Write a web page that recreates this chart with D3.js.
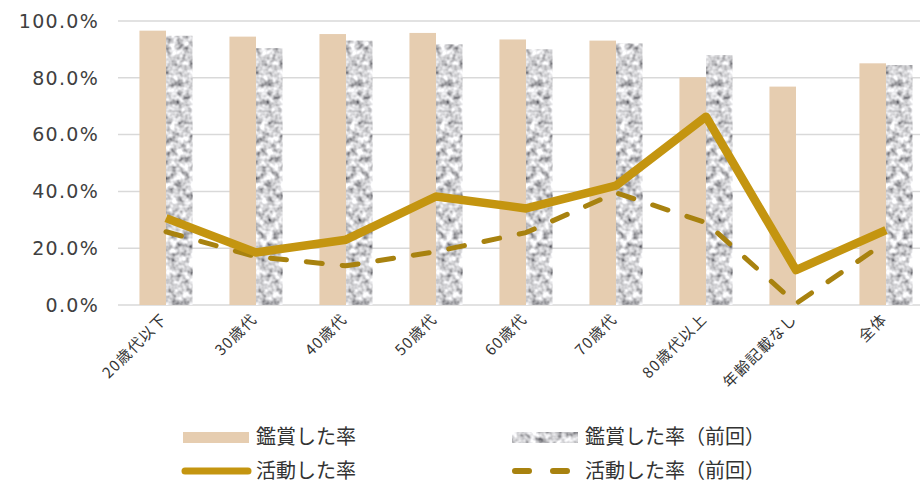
<!DOCTYPE html>
<html>
<head>
<meta charset="utf-8">
<script src="https://cdn.jsdelivr.net/npm/d3@7"></script>
<style>
  body { margin: 0; background: #fff; }
  svg { display: block; }
</style>
</head>
<body>
<div id="chart"></div>
<script>
var categories = ["20歳代以下", "30歳代", "40歳代", "50歳代", "60歳代", "70歳代", "80歳代以上", "年齢記載なし", "全体"];
var appreciated = [96.6, 94.5, 95.4, 95.8, 93.5, 93.1, 80.2, 76.9, 85.1];
var appreciatedPrev = [94.8, 90.4, 93.1, 91.8, 90.0, 92.1, 88.0, 0, 84.5];
var active = [30.6, 18.5, 23.0, 38.2, 34.0, 42.0, 66.3, 12.3, 26.4];
var activePrev = [25.8, 17.0, 13.8, 18.8, 25.5, 39.5, 29.0, 0.5, 22.2];
var yTicks = [0, 20, 40, 60, 80, 100];

var width = 920, height = 489;
var tan = "#e6cdb0", gold = "#c49510", goldDark = "#a8820f";

var svg = d3.select("#chart").append("svg")
    .attr("width", width)
    .attr("height", height);

// gray noise texture for the previous-year bars
var defs = svg.append("defs");
var f = defs.append("filter").attr("id", "noise")
    .attr("x", "-5%").attr("y", "-5%").attr("width", "110%").attr("height", "110%");
f.append("feTurbulence").attr("type", "fractalNoise")
    .attr("baseFrequency", "0.16").attr("numOctaves", 2).attr("seed", 7).attr("result", "n");
f.append("feColorMatrix").attr("in", "n").attr("type", "matrix")
    .attr("values", "1.6 0 0 0 -0.14  1.6 0 0 0 -0.14  1.6 0 0 0 -0.12  0 0 0 0 1")
    .attr("result", "g");
f.append("feComposite").attr("in", "g").attr("in2", "SourceGraphic").attr("operator", "in");

var x0 = d3.scaleBand().domain(categories).range([121, 931])
    .paddingInner(0.41).paddingOuter(0.205);
var x1 = d3.scaleBand().domain(["now", "prev"]).range([0, x0.bandwidth()]);
var y = d3.scaleLinear().domain([0, 100]).range([305, 21]);
var cx = function (c) { return x0(c) + x0.bandwidth() / 2; };

// grid
svg.append("g").selectAll("line").data(yTicks).enter().append("line")
    .attr("x1", 118).attr("x2", width)
    .attr("y1", function (d) { return y(d); })
    .attr("y2", function (d) { return y(d); })
    .attr("stroke", "#d9d9d9")
    .attr("stroke-width", 1.5);

// y axis labels
svg.append("g").selectAll("text").data(yTicks).enter().append("text")
    .attr("x", 99)
    .attr("y", function (d) { return y(d); })
    .attr("dy", "0.36em")
    .attr("text-anchor", "end")
    .attr("font-family", "DejaVu Sans, sans-serif")
    .attr("font-size", 19)
    .attr("letter-spacing", 1.3)
    .attr("fill", "#404040")
    .text(function (d) { return d.toFixed(1) + "%"; });

// bars
var groups = svg.append("g").selectAll("g").data(categories).enter().append("g")
    .attr("transform", function (c) { return "translate(" + x0(c) + ",0)"; });
groups.append("rect")
    .attr("x", x1("now"))
    .attr("width", x1.bandwidth())
    .attr("y", function (c, i) { return y(appreciated[i]); })
    .attr("height", function (c, i) { return y(0) - y(appreciated[i]); })
    .attr("fill", tan);
groups.append("rect")
    .attr("x", x1("prev"))
    .attr("width", x1.bandwidth())
    .attr("y", function (c, i) { return y(appreciatedPrev[i]); })
    .attr("height", function (c, i) { return y(0) - y(appreciatedPrev[i]); })
    .attr("fill", "#b0b0b0")
    .attr("filter", "url(#noise)");

// lines
var line = d3.line()
    .x(function (d, i) { return cx(categories[i]); })
    .y(function (d) { return y(d); });

svg.append("path").datum(activePrev)
    .attr("d", line)
    .attr("fill", "none")
    .attr("stroke", goldDark)
    .attr("stroke-width", 5)
    .attr("stroke-linecap", "round")
    .attr("stroke-linejoin", "round")
    .attr("stroke-dasharray", "16 20");

svg.append("path").datum(active)
    .attr("d", line)
    .attr("fill", "none")
    .attr("stroke", gold)
    .attr("stroke-width", 8.5)
    .attr("stroke-linejoin", "round");

// x labels
svg.append("g").selectAll("text").data(categories).enter().append("text")
    .attr("transform", function (c) { return "translate(" + (cx(c) + 2) + ",320) rotate(-45)"; })
    .attr("text-anchor", "end")
    .attr("font-family", "Noto Sans CJK JP, sans-serif")
    .attr("font-size", 15)
    .attr("letter-spacing", 1.2)
    .attr("fill", "#333")
    .text(function (c) { return c; });

// legend
var legend = svg.append("g")
    .attr("font-family", "Noto Sans CJK JP, sans-serif")
    .attr("font-size", 20)
    .attr("fill", "#333");

legend.append("rect").attr("x", 183).attr("y", 432).attr("width", 66).attr("height", 11).attr("fill", tan);
legend.append("text").attr("x", 256).attr("y", 437).attr("dy", "0.35em").text("鑑賞した率");

legend.append("rect").attr("x", 512).attr("y", 432).attr("width", 66).attr("height", 11)
    .attr("fill", "#b0b0b0").attr("filter", "url(#noise)");
legend.append("text").attr("x", 585).attr("y", 437).attr("dy", "0.35em").text("鑑賞した率（前回）");

legend.append("line").attr("x1", 185).attr("x2", 248).attr("y1", 471).attr("y2", 471)
    .attr("stroke", gold).attr("stroke-width", 7).attr("stroke-linecap", "round");
legend.append("text").attr("x", 256).attr("y", 471).attr("dy", "0.35em").text("活動した率");

legend.append("line").attr("x1", 515).attr("x2", 578).attr("y1", 471).attr("y2", 471)
    .attr("stroke", goldDark).attr("stroke-width", 6).attr("stroke-linecap", "round")
    .attr("stroke-dasharray", "14 24");
legend.append("text").attr("x", 585).attr("y", 471).attr("dy", "0.35em").text("活動した率（前回）");
</script>
</body>
</html>
